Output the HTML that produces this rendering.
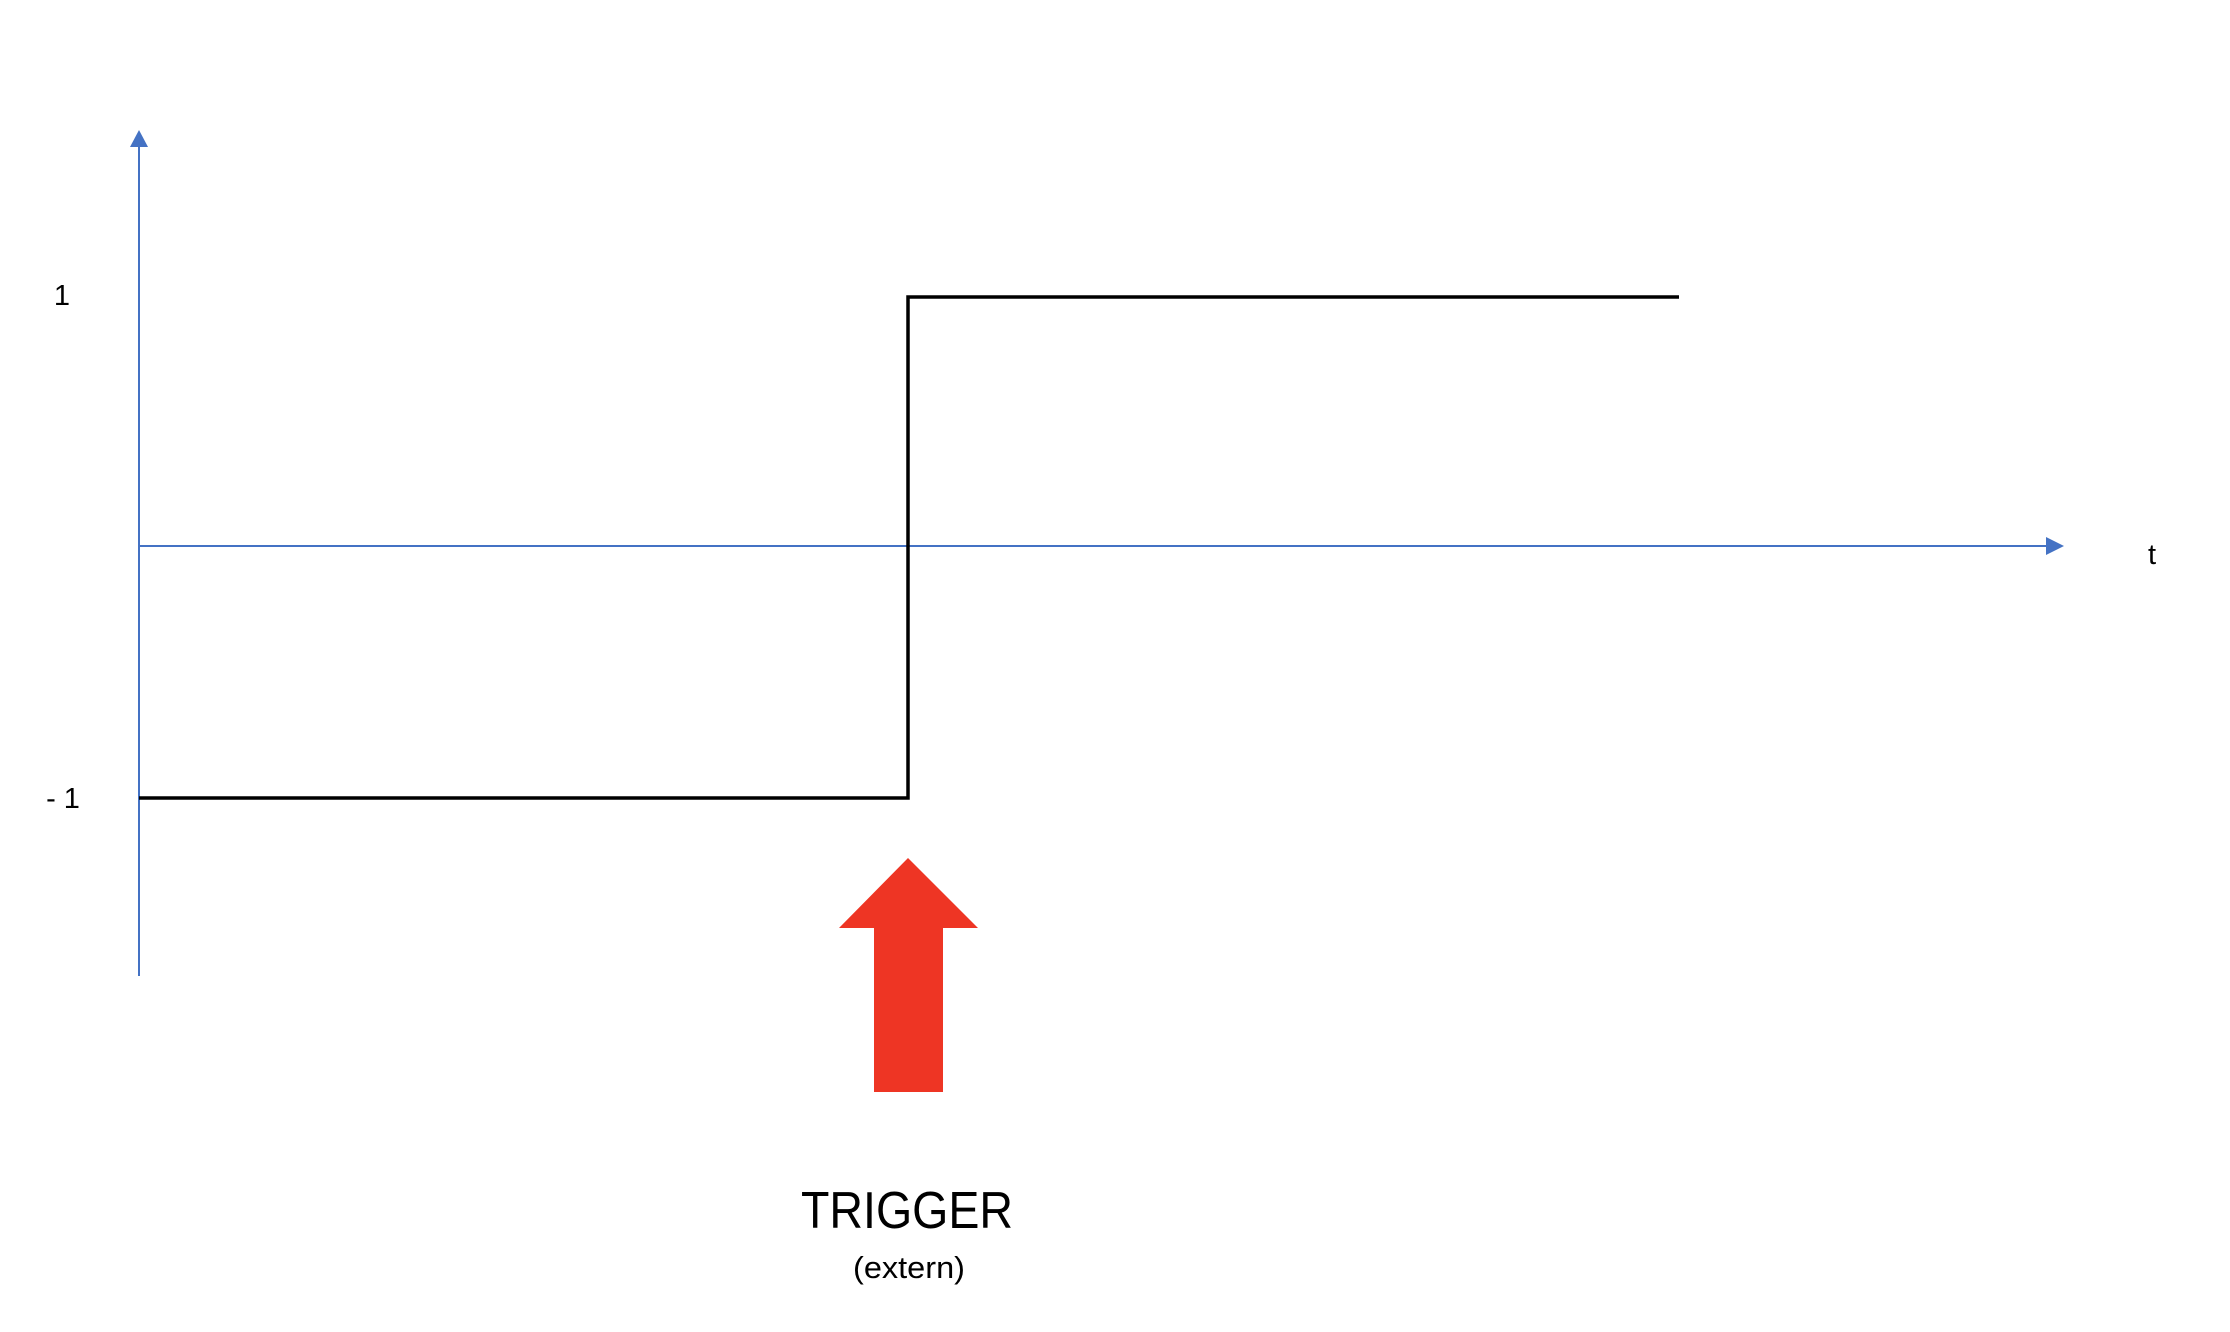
<!DOCTYPE html>
<html><head><meta charset="utf-8"><style>html,body{margin:0;padding:0;background:#fff}svg{display:block}</style></head>
<body>
<svg width="2230" height="1332" viewBox="0 0 2230 1332" xmlns="http://www.w3.org/2000/svg">
<rect width="2230" height="1332" fill="#fff"/>
<g stroke="#4472C4" stroke-width="2" fill="none">
<line x1="139" y1="146" x2="139" y2="976"/>
<line x1="139" y1="546" x2="2048" y2="546"/>
</g>
<polygon points="139,130 130,147 148,147" fill="#4472C4"/>
<polygon points="2064,546 2046,537 2046,555" fill="#4472C4"/>
<polyline points="139,798 908,798 908,297 1679,297" fill="none" stroke="#000" stroke-width="3.5" stroke-linejoin="miter"/>
<polygon points="908,858 978,928 943,928 943,1092 874,1092 874,928 839,928" fill="#EE3524"/>
<g font-family="Liberation Sans, sans-serif" fill="#000">
<text x="62" y="305" font-size="29" text-anchor="middle">1</text>
<text x="63" y="808" font-size="29" text-anchor="middle">- 1</text>
<text x="2152" y="564" font-size="29" text-anchor="middle">t</text>
<text x="907" y="1228" font-size="52" text-anchor="middle" textLength="212" lengthAdjust="spacingAndGlyphs">TRIGGER</text>
<text x="909" y="1278" font-size="31" text-anchor="middle" textLength="112" lengthAdjust="spacingAndGlyphs">(extern)</text>
</g>
</svg>
</body></html>
